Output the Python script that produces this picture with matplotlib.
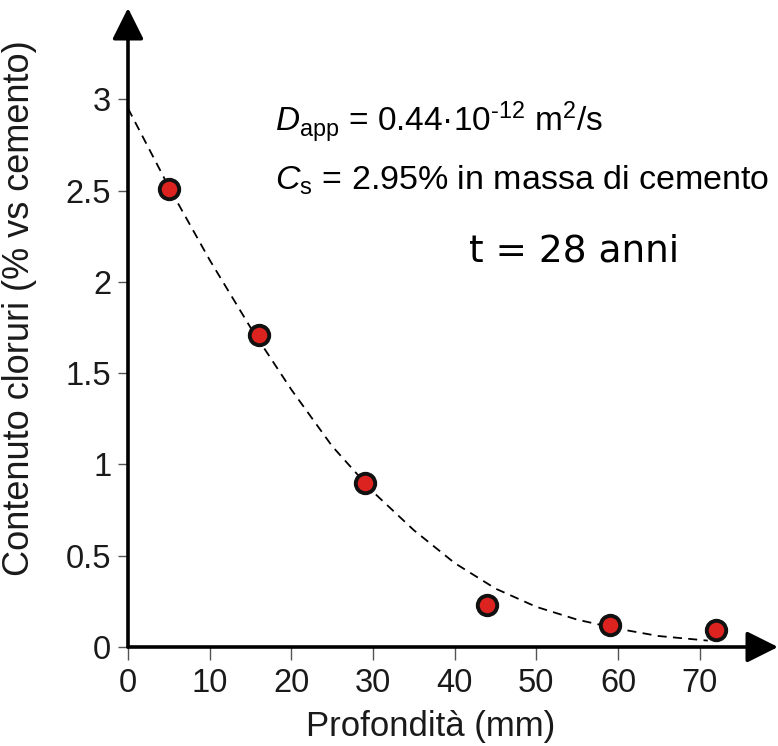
import matplotlib
matplotlib.use("Agg")
import matplotlib.pyplot as plt

# --- data ---
depth_mm = [5, 16, 29, 44, 59, 72]
chloride = [2.51, 1.71, 0.90, 0.23, 0.12, 0.095]

# fitted profile (dashed), read at 5 mm steps
fit_depth = [0, 5, 10, 15, 20, 25, 30, 35, 40, 45, 50, 55, 60, 65, 71]
fit_value = [2.95, 2.52, 2.12, 1.75, 1.41, 1.10, 0.85, 0.64, 0.46, 0.32, 0.22, 0.15, 0.10, 0.06, 0.035]

x_ticks = [0, 10, 20, 30, 40, 50, 60, 70]
y_ticks = [0, 0.5, 1, 1.5, 2, 2.5, 3]
y_tick_labels = ["0", "0.5", "1", "1.5", "2", "2.5", "3"]

plt.rcParams["font.family"] = ["Liberation Sans", "DejaVu Sans"]
plt.rcParams["mathtext.fontset"] = "custom"
plt.rcParams["mathtext.rm"] = "Liberation Sans"
plt.rcParams["mathtext.it"] = "Liberation Sans:italic"

W, H = 778, 746
fig = plt.figure(figsize=(W / 100, H / 100), dpi=100)
ax = fig.add_axes([128 / W, 99 / H, 650 / W, 639 / H])
ax.set_xlim(0, 79.6)
ax.set_ylim(0, 3.5)

for s in ax.spines.values():
    s.set_visible(False)

# axes with arrowheads
arrow = dict(arrowstyle="-|>,head_length=0.4,head_width=0.2", lw=2.6, color="black",
             mutation_scale=48, shrinkA=0, shrinkB=0)
ax.annotate("", xy=(1, 0), xytext=(0, 0), xycoords="axes fraction", arrowprops=arrow)
ax.annotate("", xy=(0, 1), xytext=(0, 0), xycoords="axes fraction", arrowprops=arrow)

ax.plot(fit_depth, fit_value, color="black", lw=1.3, dashes=(5, 3.5), zorder=2)
ax.plot(depth_mm, chloride, "o", ms=14, mfc="#dc2320", mec="#111111", mew=2.8,
        ls="none", zorder=3)

ax.set_xticks(x_ticks)
ax.set_yticks(y_ticks)
ax.set_yticklabels(y_tick_labels)
ax.tick_params(axis="both", direction="out", length=7, width=1, color="#555555",
               labelsize=23.5, labelcolor="#1a1a1a", pad=5)
ax.tick_params(axis="x", length=9, pad=6)

ax.set_xlabel("Profondità (mm)", fontsize=25, color="#1a1a1a")
ax.xaxis.set_label_coords(0.465, -0.098)
ax.set_ylabel("Contenuto cloruri (% vs cemento)", fontsize=26, color="#1a1a1a")
ax.yaxis.set_label_coords(-0.14, 0.53)

ax.text(18.0, 2.82, "$D_{\\mathrm{app}}$ = 0.44·10$^{\u201012}$ m$^{2}$/s", fontsize=24, va="baseline")
ax.text(18.0, 2.505, r"$C_{\mathrm{s}}$ = 2.95% in massa di cemento", fontsize=24.5, va="baseline")
ax.text(41.8, 2.11, "t = 28 anni", fontsize=27, va="baseline", family="DejaVu Sans")

fig.savefig("out.png", dpi=100)
